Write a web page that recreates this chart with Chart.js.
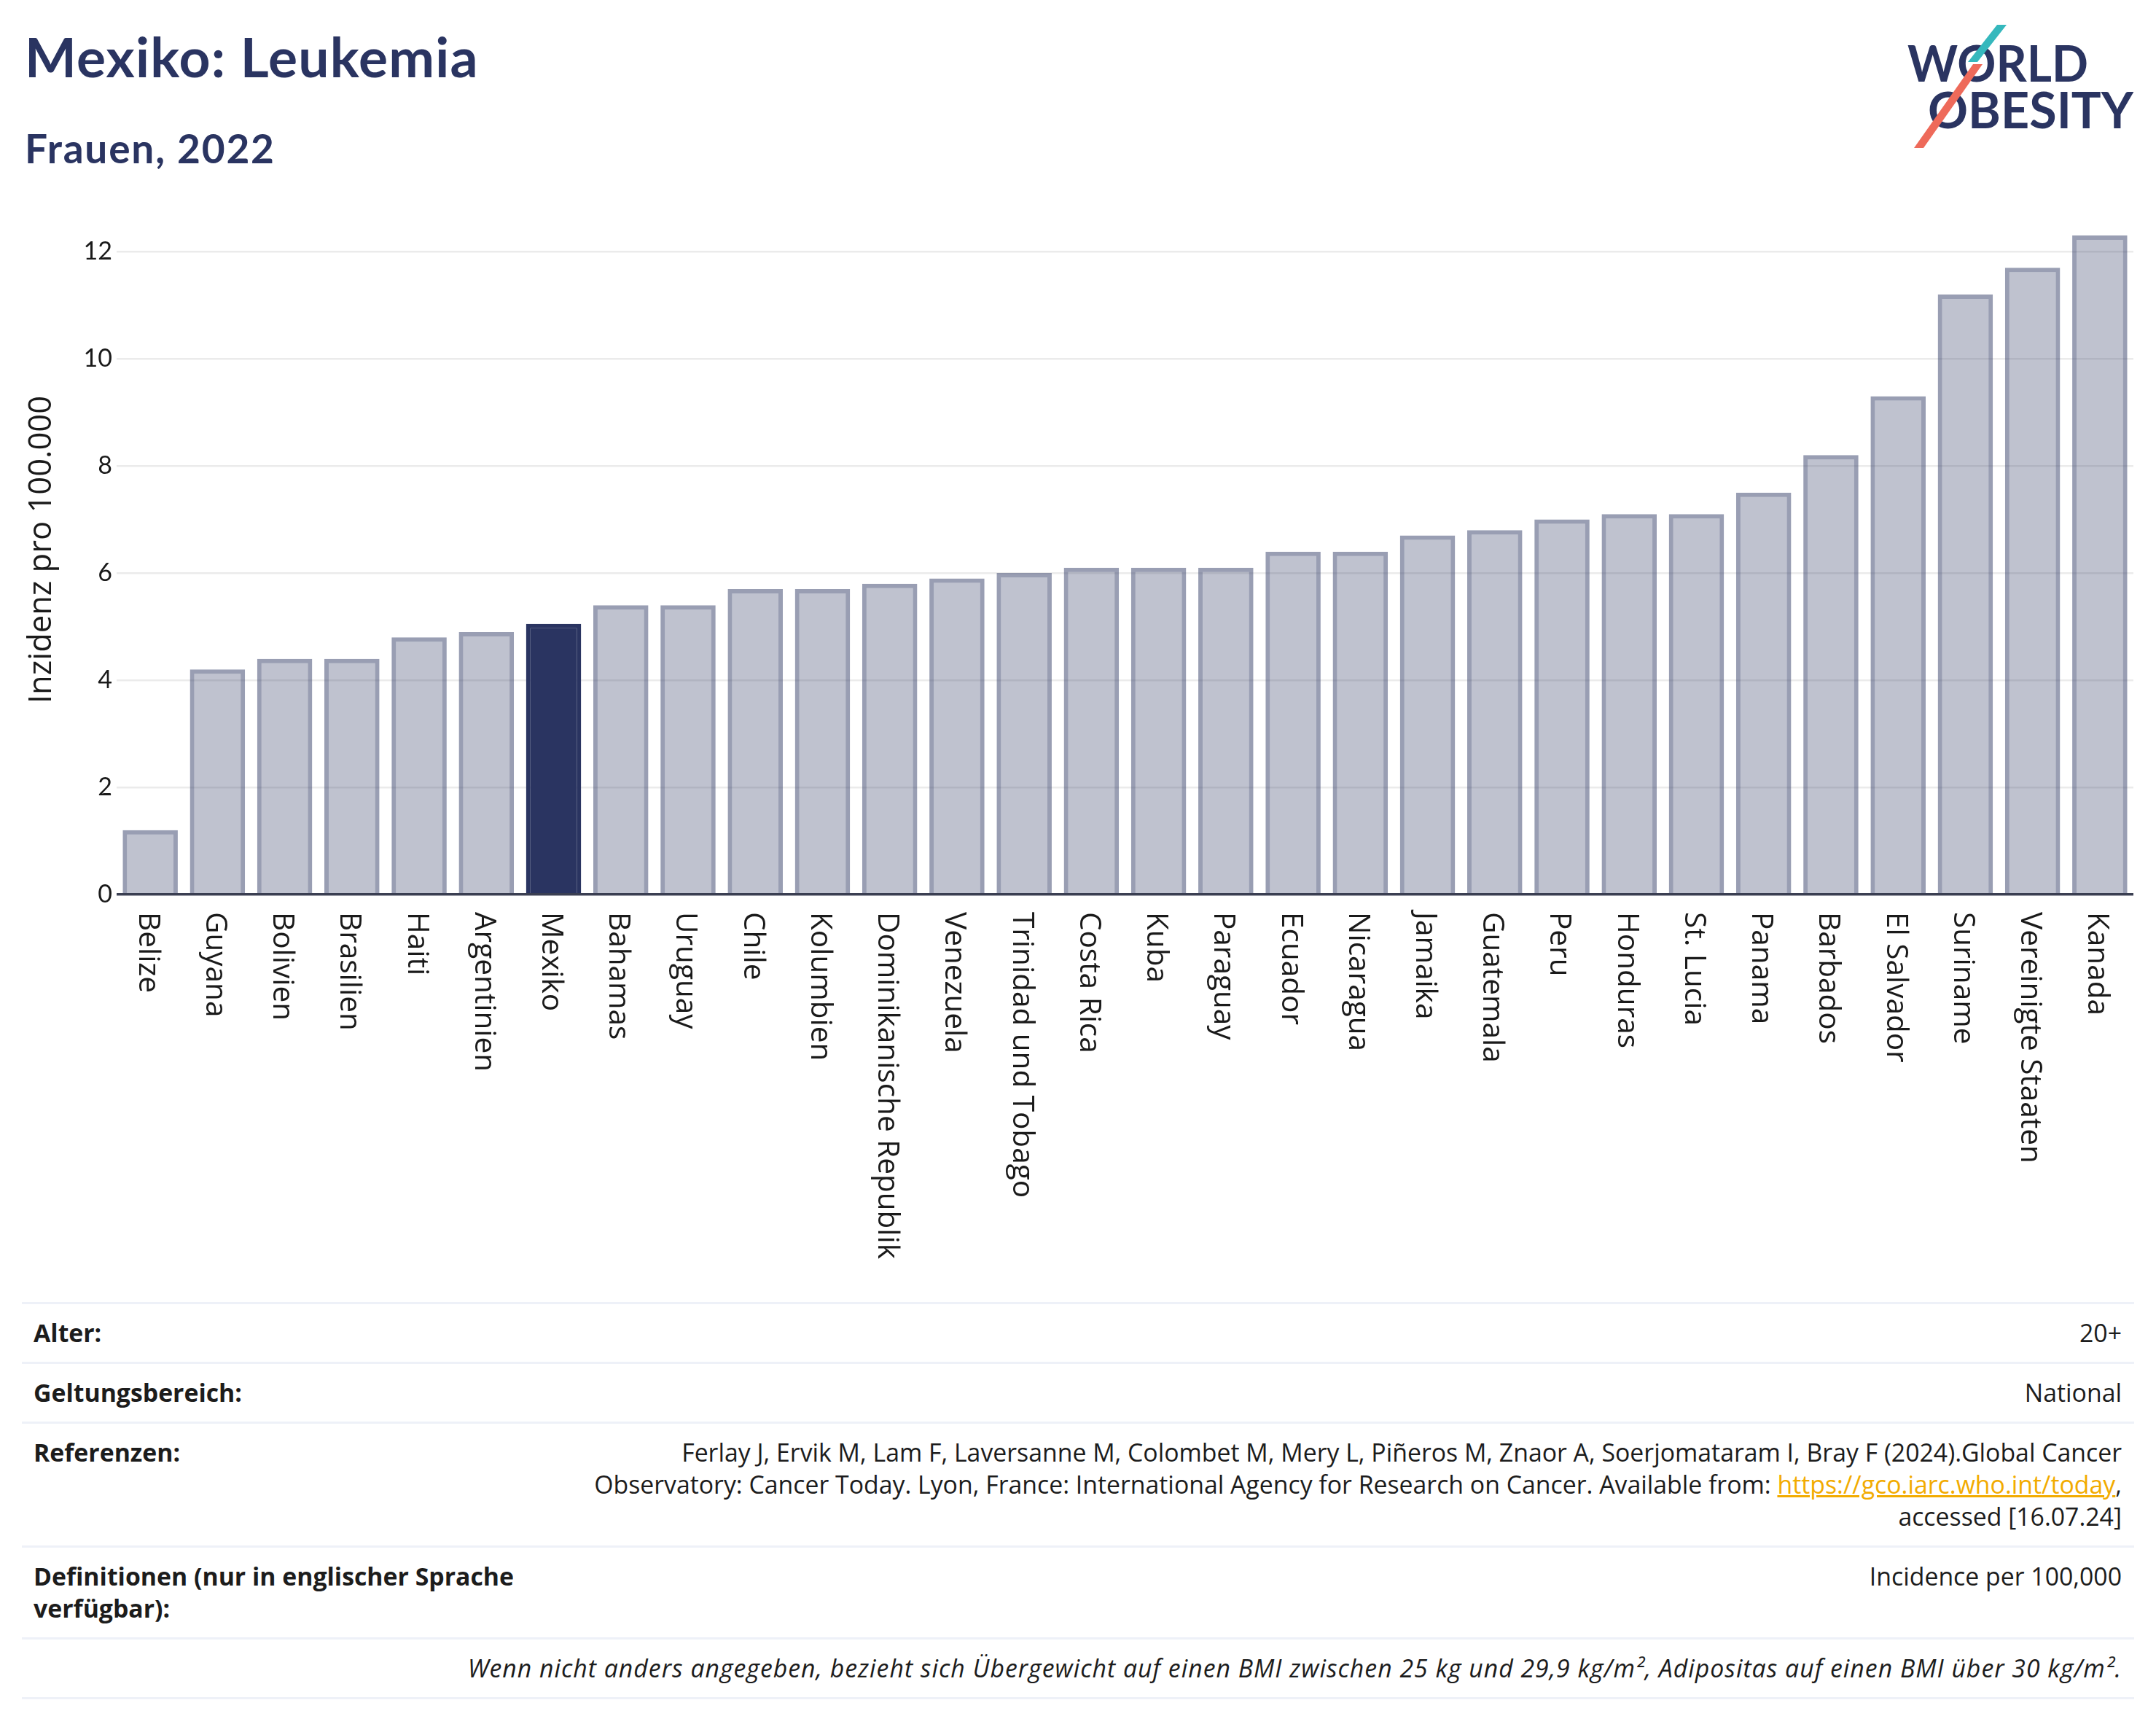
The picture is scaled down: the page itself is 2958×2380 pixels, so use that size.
<!DOCTYPE html>
<html lang="de">
<head>
<meta charset="UTF-8">
<title>Mexiko: Leukemia</title>
<script src="https://cdn.jsdelivr.net/npm/chart.js"></script>
<style>
    body {
        margin: 0;
        width: 2958px;
        height: 2380px;
        background: #fff;
        font-family: "Open Sans", "Noto Sans", sans-serif;
        position: relative;
        overflow: hidden;
    }
    h1 {
        position: absolute;
        left: 34px;
        top: 40px;
        margin: 0;
        font-family: Lato, sans-serif;
        font-size: 75px;
        letter-spacing: 1.2px;
        font-weight: 700;
        color: #2a3461;
        line-height: 1;
    }
    h2 {
        position: absolute;
        left: 34px;
        top: 176px;
        margin: 0;
        font-family: Lato, sans-serif;
        font-size: 55px;
        letter-spacing: 1.8px;
        font-weight: 700;
        color: #2a3461;
        line-height: 1;
    }
    #logo {
        position: absolute;
        left: 2600px;
        top: 20px;
    }
    #chart-box {
        position: absolute;
        left: 0;
        top: 250px;
        width: 2958px;
        height: 1500px;
    }
    #info {
        position: absolute;
        left: 30px;
        top: 1786px;
        width: 2898px;
        font-size: 33.8px;
        line-height: 44px;
        color: #1c1c1c;
        border-bottom: 3px solid #eef1f8;
    }
    .row {
        display: flex;
        border-top: 3px solid #eef1f8;
        padding: 17px 17px 18px 16px;
    }
    .lab {
        width: 740px;
        font-weight: 700;
        flex: none;
    }
    .val {
        flex: 1;
        text-align: right;
    }
    .val a {
        color: #f2ab00;
        text-decoration: underline;
    }
    .note {
        font-style: italic;
        letter-spacing: 1px;
        white-space: nowrap;
    }
</style>
</head>
<body>

<h1>Mexiko: Leukemia</h1>
<h2>Frauen, 2022</h2>

<svg id="logo" width="340" height="200" viewBox="0 0 340 200">
    <text x="17" y="92" font-family="Lato, sans-serif" font-weight="700" font-size="68" fill="#2a3461"
          textLength="248" lengthAdjust="spacingAndGlyphs">WORLD</text>
    <text x="45" y="156" font-family="Lato, sans-serif" font-weight="700" font-size="68" fill="#2a3461"
          textLength="282" lengthAdjust="spacingAndGlyphs">OBESITY</text>
    <polygon points="140,14 153,14 113,65 100,65" fill="#35b8bd"/>
    <polygon points="107,68 120,68 39,183 26,183" fill="#ee6a5a"/>
</svg>

<div id="chart-box">
    <canvas id="chart"></canvas>
</div>

<div id="info">
    <div class="row"><div class="lab">Alter:</div><div class="val">20+</div></div>
    <div class="row"><div class="lab">Geltungsbereich:</div><div class="val">National</div></div>
    <div class="row"><div class="lab">Referenzen:</div><div class="val">Ferlay J, Ervik M, Lam F, Laversanne M, Colombet M, Mery L, Piñeros M, Znaor A, Soerjomataram I, Bray F (2024).Global Cancer<br>Observatory: Cancer Today. Lyon, France: International Agency for Research on Cancer. Available from: <a href="https://gco.iarc.who.int/today">https://gco.iarc.who.int/today</a>,<br>accessed [16.07.24]</div></div>
    <div class="row"><div class="lab">Definitionen (nur in englischer Sprache<br>verfügbar):</div><div class="val">Incidence per 100,000</div></div>
    <div class="row"><div class="val note">Wenn nicht anders angegeben, bezieht sich Übergewicht auf einen BMI zwischen 25 kg und 29,9 kg/m², Adipositas auf einen BMI über 30 kg/m².</div></div>
</div>

<script>
    // data
    const countries = ['Belize', 'Guyana', 'Bolivien', 'Brasilien', 'Haiti', 'Argentinien', 'Mexiko',
        'Bahamas', 'Uruguay', 'Chile', 'Kolumbien', 'Dominikanische Republik', 'Venezuela',
        'Trinidad und Tobago', 'Costa Rica', 'Kuba', 'Paraguay', 'Ecuador', 'Nicaragua', 'Jamaika',
        'Guatemala', 'Peru', 'Honduras', 'St. Lucia', 'Panama', 'Barbados', 'El Salvador',
        'Suriname', 'Vereinigte Staaten', 'Kanada'];
    const incidence = [1.2, 4.2, 4.4, 4.4, 4.8, 4.9, 5.05,
        5.4, 5.4, 5.7, 5.7, 5.8, 5.9,
        6.0, 6.1, 6.1, 6.1, 6.4, 6.4, 6.7,
        6.8, 7.0, 7.1, 7.1, 7.5, 8.2, 9.3,
        11.2, 11.7, 12.3];
    const yTicks = [0, 2, 4, 6, 8, 10, 12];
    const yTitle = 'Inzidenz pro 100.000';
    const highlight = 'Mexiko';

    const navy = '#2a3461';
    const fills = countries.map(c => c === highlight ? navy : 'rgba(42, 53, 96, 0.3)');
    const borders = countries.map(c => c === highlight ? navy : 'rgba(42, 53, 96, 0.48)');

    // rotated category labels reading top to bottom, plus the y title
    const axisText = {
        id: 'axisText',
        afterDraw(chart) {
            const ctx = chart.ctx;
            const xs = chart.scales.x;
            const area = chart.chartArea;
            ctx.save();
            ctx.font = '40.5px "Open Sans"';
            ctx.fillStyle = '#1a1a1a';
            ctx.textAlign = 'left';
            ctx.textBaseline = 'middle';
            countries.forEach((name, i) => {
                ctx.save();
                ctx.translate(xs.getPixelForTick(i) - 4, area.bottom + 24);
                ctx.rotate(Math.PI / 2);
                ctx.fillText(name, 0, 0);
                ctx.restore();
            });
            ctx.font = '43.5px "Open Sans"';
            ctx.textAlign = 'center';
            ctx.translate(58, 504);
            ctx.rotate(-Math.PI / 2);
            ctx.fillText(yTitle, 0, 0);
            ctx.restore();
        }
    };

    function draw() {
        new Chart(document.getElementById('chart'), {
            type: 'bar',
            data: {
                labels: countries,
                datasets: [{
                    data: incidence,
                    backgroundColor: fills,
                    borderColor: borders,
                    borderWidth: 6,
                    borderSkipped: 'bottom',
                    barPercentage: 0.82,
                    categoryPercentage: 1
                }]
            },
            options: {
                responsive: true,
                maintainAspectRatio: false,
                animation: false,
                devicePixelRatio: 1,
                layout: { padding: { left: 33, right: 31, top: 51, bottom: 0 } },
                plugins: { legend: { display: false }, tooltip: { enabled: false } },
                scales: {
                    x: {
                        grid: { display: false },
                        border: { display: false },
                        ticks: { display: false },
                        afterFit: s => { s.height = 523; }
                    },
                    y: {
                        min: 0,
                        max: 12.6,
                        afterFit: s => { s.width = 127; },
                        afterBuildTicks: s => { s.ticks = yTicks.map(v => ({ value: v })); },
                        border: { display: false },
                        grid: {
                            drawTicks: false,
                            color: c => c.tick && c.tick.value === 0 ? '#3b3f52' : '#ebebeb',
                            lineWidth: c => c.tick && c.tick.value === 0 ? 3.5 : 2.5
                        },
                        ticks: {
                            padding: 6,
                            color: '#1a1a1a',
                            font: { family: 'Lato', size: 34 }
                        }
                    }
                }
            },
            plugins: [axisText]
        });
    }

    Promise.all([document.fonts.load('38px "Open Sans"'), document.fonts.load('34px Lato')]).then(draw, draw);
</script>
</body>
</html>
